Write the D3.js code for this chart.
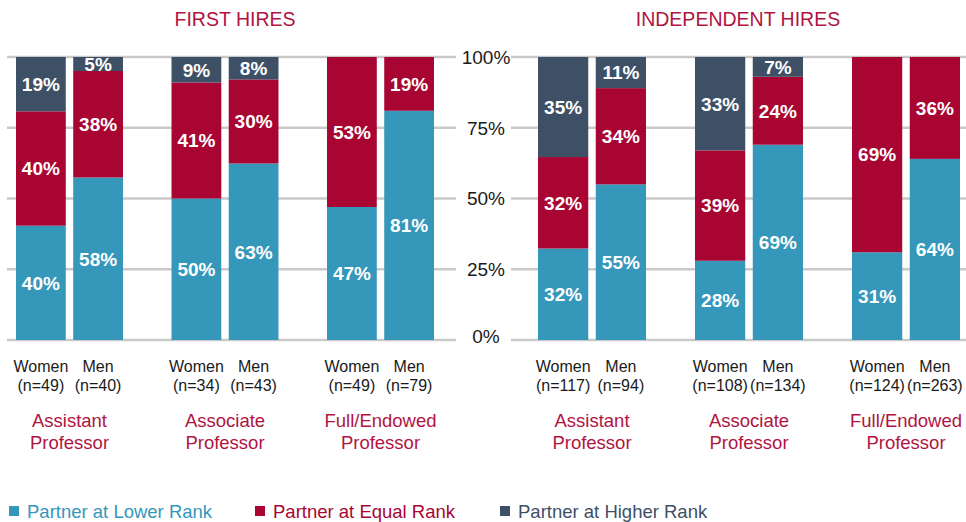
<!DOCTYPE html>
<html>
<head>
<meta charset="utf-8">
<script src="https://cdn.jsdelivr.net/npm/d3@7"></script>
<style>
  body { margin: 0; background: #fff; }
  svg { display: block; font-family: "Helvetica Neue", Helvetica, Arial, "Liberation Sans", sans-serif; }
</style>
</head>
<body>
<div id="chart"></div>
<script>
// categories
var ranks = [["Assistant", "Professor"], ["Associate", "Professor"], ["Full/Endowed", "Professor"]];
var genders = ["Women", "Men"];
var seriesNames = ["Partner at Lower Rank", "Partner at Equal Rank", "Partner at Higher Rank"];
var yTicks = [0, 0.25, 0.5, 0.75, 1];

// first hires, [women, men] per rank
var firstN      = [[49, 40], [34, 43], [49, 79]];
var firstLower  = [[40, 58], [50, 63], [47, 81]];
var firstEqual  = [[40, 38], [41, 30], [53, 19]];
var firstHigher = [[19, 5],  [9, 8],   [0, 0]];

// independent hires
var indepN      = [[117, 94], [108, 134], [124, 263]];
var indepLower  = [[32, 55], [28, 69], [31, 64]];
var indepEqual  = [[32, 34], [39, 24], [69, 36]];
var indepHigher = [[35, 11], [33, 7],  [0, 0]];

var colors = ["#3597ba", "#a80533", "#3e5066"];
var crimson = "#b0143f";
var keys = ["lower", "equal", "higher"];

var width = 966, height = 522;
var svg = d3.select("#chart").append("svg")
  .attr("width", width)
  .attr("height", height);

var y = d3.scaleLinear().domain([0, 1]).range([340, 57]);

function buildRows(n, lower, equal, higher) {
  var rows = [];
  ranks.forEach(function(r, i) {
    genders.forEach(function(g, j) {
      rows.push({rank: i, gender: g, n: n[i][j], lower: lower[i][j], equal: equal[i][j], higher: higher[i][j]});
    });
  });
  return rows;
}

var panels = [
  {title: "FIRST HIRES", titleX: 235, grid: [7, 456], range: [16, 434],
   rows: buildRows(firstN, firstLower, firstEqual, firstHigher)},
  {title: "INDEPENDENT HIRES", titleX: 738, grid: [511, 966], range: [538, 960],
   rows: buildRows(indepN, indepLower, indepEqual, indepHigher)}
];

var stack = d3.stack().keys(keys).offset(d3.stackOffsetExpand);

panels.forEach(function(p) {
  var g = svg.append("g");

  // gridlines behind the bars
  g.selectAll(".grid")
    .data(yTicks)
    .enter().append("line")
    .attr("x1", p.grid[0]).attr("x2", p.grid[1])
    .attr("y1", function(d) { return y(d); })
    .attr("y2", function(d) { return y(d); })
    .attr("stroke", "#c9c9c9")
    .attr("stroke-width", 2.5);

  g.append("text")
    .attr("x", p.titleX).attr("y", 26)
    .attr("text-anchor", "middle")
    .attr("fill", crimson)
    .style("font-size", "19.5px")
    .text(p.title);

  var x0 = d3.scaleBand().domain(d3.range(ranks.length)).range(p.range).paddingInner(0.312);
  var x1 = d3.scaleBand().domain(genders).range([0, x0.bandwidth()]).paddingInner(0.13);

  var barX = function(d) { return x0(d.data.rank) + x1(d.data.gender); };

  var layers = stack(p.rows);
  layers.forEach(function(layer, k) {
    g.selectAll(".bar" + k)
      .data(layer)
      .enter().append("rect")
      .attr("x", barX)
      .attr("width", x1.bandwidth())
      .attr("y", function(d) { return y(d[1]); })
      .attr("height", function(d) { return y(d[0]) - y(d[1]); })
      .attr("fill", colors[k]);

    g.selectAll(".lab" + k)
      .data(layer.filter(function(d) { return d.data[keys[k]] > 0; }))
      .enter().append("text")
      .attr("x", function(d) { return barX(d) + x1.bandwidth() / 2; })
      .attr("y", function(d) { return y((d[0] + d[1]) / 2); })
      .attr("dy", "0.36em")
      .attr("text-anchor", "middle")
      .attr("fill", "#fff")
      .style("font-size", "19px")
      .style("font-weight", "bold")
      .text(function(d) { return d.data[keys[k]] + "%"; });
  });

  // gender + n labels
  var gl = g.selectAll(".glab")
    .data(p.rows)
    .enter().append("text")
    .attr("text-anchor", "middle")
    .attr("fill", "#1a1a1a")
    .style("font-size", "16px");
  gl.append("tspan")
    .attr("x", function(d) { return x0(d.rank) + x1(d.gender) + x1.bandwidth() / 2; })
    .attr("y", 372)
    .text(function(d) { return d.gender; });
  gl.append("tspan")
    .attr("x", function(d) { return x0(d.rank) + x1(d.gender) + x1.bandwidth() / 2; })
    .attr("y", 391)
    .text(function(d) { return "(n=" + d.n + ")"; });

  // rank labels
  var rl = g.selectAll(".rlab")
    .data(ranks)
    .enter().append("text")
    .attr("text-anchor", "middle")
    .attr("fill", crimson)
    .style("font-size", "18.5px");
  rl.append("tspan")
    .attr("x", function(d, i) { return x0(i) + x0.bandwidth() / 2; })
    .attr("y", 427)
    .text(function(d) { return d[0]; });
  rl.append("tspan")
    .attr("x", function(d, i) { return x0(i) + x0.bandwidth() / 2; })
    .attr("y", 449)
    .text(function(d) { return d[1]; });
});

// shared y axis labels in the middle
svg.selectAll(".ytick")
  .data(yTicks)
  .enter().append("text")
  .attr("x", 486)
  .attr("y", function(d) { return y(d) - (d === 0 ? 4 : 0); })
  .attr("dy", "0.36em")
  .attr("text-anchor", "middle")
  .attr("fill", "#1a1a1a")
  .style("font-size", "19px")
  .text(function(d) { return d3.format(".0%")(d); });

// legend
var legX = [9, 255, 500];
var leg = svg.selectAll(".leg")
  .data(seriesNames)
  .enter().append("g")
  .attr("transform", function(d, i) { return "translate(" + legX[i] + ",511)"; });
leg.append("rect")
  .attr("x", 0).attr("y", -5)
  .attr("width", 10).attr("height", 10)
  .attr("fill", function(d, i) { return colors[i]; });
leg.append("text")
  .attr("x", 18).attr("y", 0)
  .attr("dy", "0.36em")
  .attr("fill", function(d, i) { return colors[i]; })
  .style("font-size", "18.5px")
  .text(function(d) { return d; });
</script>
</body>
</html>
